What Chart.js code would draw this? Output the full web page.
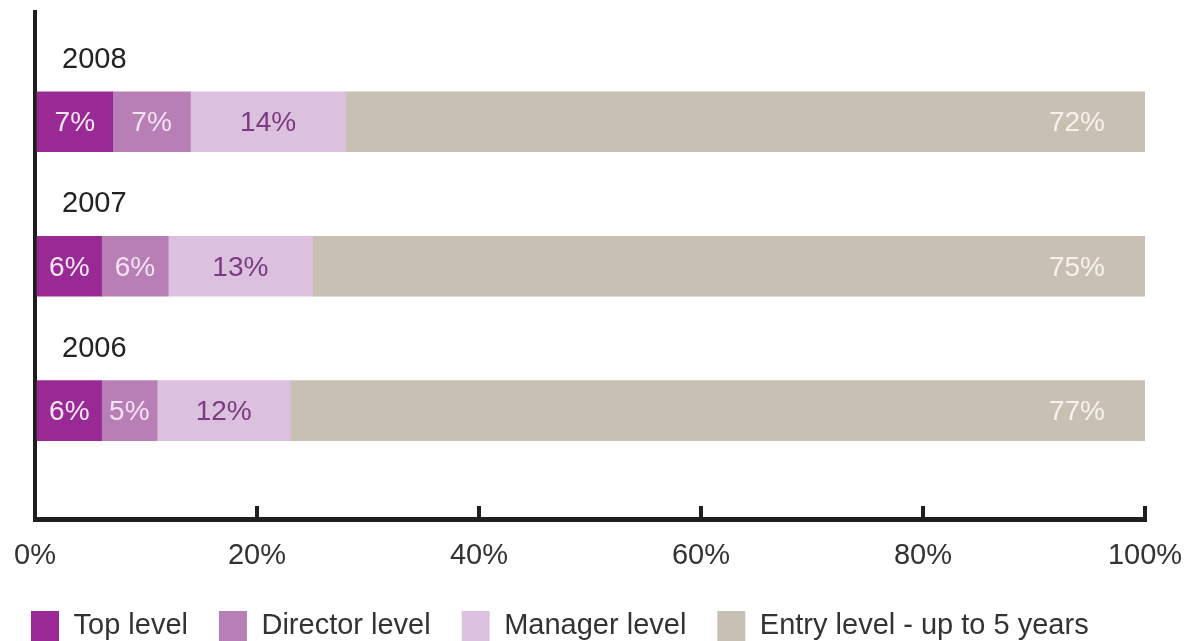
<!DOCTYPE html>
<html>
<head>
<meta charset="utf-8">
<title>Experience level breakdown</title>
<script src="https://cdn.jsdelivr.net/npm/chart.js@4/dist/chart.umd.min.js"></script>
<style>
  body { margin: 0; background: #ffffff; }
  canvas { display: block; }
</style>
</head>
<body>
<canvas id="levelChart" width="1192" height="641"></canvas>
<script>
// data
const years = ["2008", "2007", "2006"];
const yearPositions = [1, 2, 3];
const topLevel = [7, 6, 6];
const directorLevel = [7, 6, 5];
const managerLevel = [14, 13, 12];
const entryLevel = [72, 75, 77];
const xTicks = [0, 20, 40, 60, 80, 100];

const seriesNames = ["Top level", "Director level", "Manager level", "Entry level - up to 5 years"];
const seriesColors = ["#992a95", "#b87fb6", "#dcc1de", "#c9c0b4"];
const labelColors = ["#f7e6f4", "#f4e2f1", "#7b3a82", "#f6f3ee"];
const axisColor = "#1e1e1e";

Chart.defaults.font.family = "'Liberation Sans', Arial, sans-serif";

function toPoints(values) {
  return values.map((v, i) => ({ x: v, y: yearPositions[i] }));
}

// axis labels hang outside the plot, don't let them shrink it
function noLabelPadding(scale) {
  scale.paddingLeft = 0;
  scale.paddingRight = 0;
  scale.paddingTop = 0;
  scale.paddingBottom = 0;
}

// percentage text inside each segment
const segmentLabels = {
  id: "segmentLabels",
  afterDatasetsDraw(chart) {
    const ctx = chart.ctx;
    ctx.save();
    ctx.font = "28px 'Liberation Sans', Arial, sans-serif";
    ctx.textBaseline = "middle";
    chart.data.datasets.forEach((dataset, i) => {
      const meta = chart.getDatasetMeta(i);
      const last = i === chart.data.datasets.length - 1;
      meta.data.forEach((bar, j) => {
        const text = `${dataset.data[j].x}%`;
        ctx.fillStyle = labelColors[i];
        if (last) {
          ctx.textAlign = "right";
          ctx.fillText(text, bar.x - 40, bar.y + 2);
        } else {
          ctx.textAlign = "center";
          ctx.fillText(text, (bar.x + bar.base) / 2, bar.y + 2);
        }
      });
    });
    ctx.restore();
  },
};

const levelData = {
  datasets: [
    { label: seriesNames[0], data: toPoints(topLevel), backgroundColor: seriesColors[0] },
    { label: seriesNames[1], data: toPoints(directorLevel), backgroundColor: seriesColors[1] },
    { label: seriesNames[2], data: toPoints(managerLevel), backgroundColor: seriesColors[2] },
    { label: seriesNames[3], data: toPoints(entryLevel), backgroundColor: seriesColors[3] },
  ],
};

const levelConfig = {
  type: "bar",
  data: levelData,
  plugins: [segmentLabels],
  options: {
    indexAxis: "y",
    responsive: false,
    animation: false,
    barThickness: 60,
    layout: {
      padding: { top: 12, right: 47, left: 0, bottom: -10 },
    },
    plugins: {
      tooltip: { enabled: false },
      legend: {
        position: "bottom",
        align: "start",
        labels: {
          boxWidth: 28,
          boxHeight: 30,
          padding: 31,
          color: "#333333",
          font: { size: 29 },
        },
      },
    },
    scales: {
      x: {
        type: "linear",
        min: 0,
        max: 100,
        stacked: true,
        afterBuildTicks: (scale) => {
          scale.ticks = xTicks.map((v) => ({ value: v }));
        },
        afterFit: (scale) => {
          noLabelPadding(scale);
          scale.height = 61;
        },
        grid: {
          drawOnChartArea: false,
          drawTicks: true,
          tickLength: -13,
          lineWidth: 4,
          color: axisColor,
        },
        border: { display: true, color: axisColor, width: 5 },
        ticks: {
          padding: 33,
          color: "#333333",
          font: { size: 29 },
          callback: (value) => `${value}%`,
        },
      },
      y: {
        type: "linear",
        reverse: true,
        offset: false,
        min: 0.24,
        max: 3.75,
        stacked: true,
        afterBuildTicks: (scale) => {
          scale.ticks = yearPositions.map((v) => ({ value: v }));
        },
        afterFit: (scale) => {
          noLabelPadding(scale);
          scale.width = 35;
        },
        grid: { display: false },
        border: { display: true, color: axisColor, width: 4 },
        ticks: {
          mirror: true,
          padding: 27,
          labelOffset: -62,
          autoSkip: false,
          color: "#222222",
          font: { size: 29 },
          callback: (value) => years[yearPositions.indexOf(value)],
        },
      },
    },
  },
};

new Chart(document.getElementById("levelChart"), levelConfig);
</script>
</body>
</html>
